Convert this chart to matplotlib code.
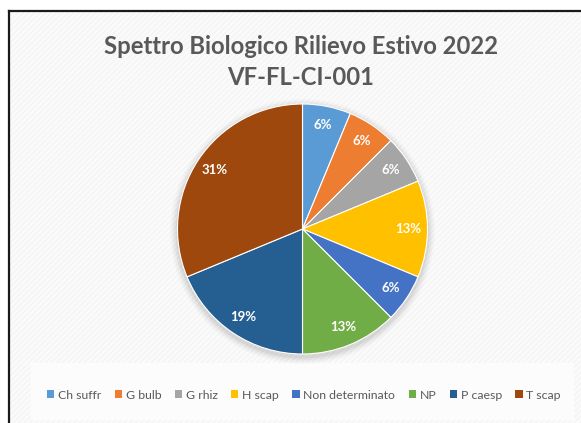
import matplotlib
matplotlib.use("Agg")
import matplotlib.pyplot as plt
from matplotlib.patches import Rectangle, Patch, Circle

categories = ["Ch suffr", "G bulb", "G rhiz", "H scap", "Non determinato", "NP", "P caesp", "T scap"]
values = [1, 1, 1, 2, 1, 2, 3, 5]
colors = ["#5B9BD5", "#ED7D31", "#A5A5A5", "#FFC000", "#4472C4", "#70AD47", "#255E91", "#9E480E"]
title = "Spettro Biologico Rilievo Estivo 2022\nVF-FL-CI-001"

W, H = 581, 423
fig = plt.figure(figsize=(W / 100, H / 100), dpi=100)
fig.patch.set_facecolor("white")

FONT = ["Lato", "DejaVu Sans"]

# chart area background with faint diagonal texture
bg = Rectangle((8 / W, 0), 1, 1 - 11 / H, transform=fig.transFigure,
               facecolor="#f6f6f6", edgecolor="#fdfdfd", hatch="//////",
               linewidth=0, zorder=-3)
fig.patches.append(bg)
# legend area
fig.patches.append(Rectangle((31 / W, 1 - 420 / H), (574 - 31) / W, (420 - 363) / H,
                             transform=fig.transFigure, facecolor="#fcfcfc",
                             edgecolor="none", zorder=-2))
# border
fig.add_artist(plt.Line2D([8.5 / W, 8.5 / W], [0, 1 - 11.5 / H], transform=fig.transFigure,
                          color="#1a1a1a", linewidth=1.6, zorder=5))
fig.add_artist(plt.Line2D([8.5 / W, 1], [1 - 11.5 / H, 1 - 11.5 / H], transform=fig.transFigure,
                          color="#1a1a1a", linewidth=1.6, zorder=5))

# title
fig.text(301 / W, 1 - 62 / H, title, ha="center", va="center", fontsize=17.2,
         fontweight="bold", color="#595959", family=FONT, linespacing=1.4)

# pie axes
cx, cy, r = 302.5, 229, 125
ax = fig.add_axes([(cx - r) / W, (H - cy - r) / H, 2 * r / W, 2 * r / H])
ax.axis("off")
ax.patch.set_alpha(0)

# soft shadow
for rr, a in [(1.06, 0.02), (1.045, 0.03), (1.03, 0.04), (1.015, 0.05)]:
    ax.add_patch(Circle((0.0, -0.02), rr, facecolor="black", alpha=a, edgecolor="none",
                        zorder=0, clip_on=False))

wedges, texts, autotexts = ax.pie(values, colors=colors, startangle=90, counterclock=False,
                                  autopct=lambda p: f"{int(p + 0.5)}%", pctdistance=0.85,
                                  wedgeprops=dict(edgecolor="white", linewidth=0.8),
                                  radius=1.0)
ax.set_xlim(-1, 1)
ax.set_ylim(-1, 1)
ax.set_aspect("equal")
for w in wedges:
    w.set_zorder(2)
for t in autotexts:
    t.set_color("white")
    t.set_fontweight("bold")
    t.set_fontsize(9.5)
    t.set_family(FONT)
    t.set_zorder(3)

handles = [Patch(facecolor=c, edgecolor="none") for c in colors]
leg = fig.legend(handles, categories, ncol=8, loc="center",
                 bbox_to_anchor=(304 / W, 1 - 395 / H), frameon=False,
                 handlelength=0.6, handleheight=0.6, handletextpad=0.3,
                 columnspacing=1.1, prop=dict(family=FONT, size=8.8))
for t in leg.get_texts():
    t.set_color("#595959")

fig.savefig("out.png", dpi=100)
